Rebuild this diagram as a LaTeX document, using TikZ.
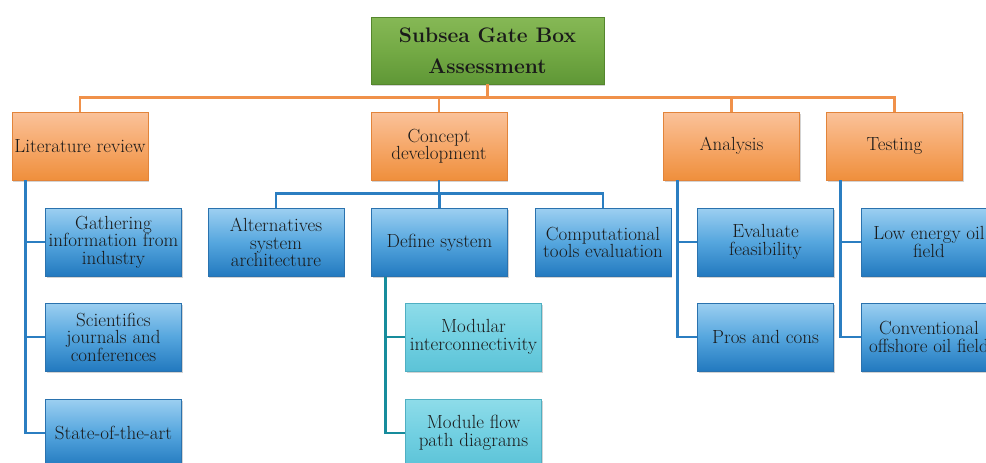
\documentclass[tikz,border=0pt]{standalone}
\usetikzlibrary{shadows}
\definecolor{txt}{HTML}{1A1A1A}
\definecolor{otop}{HTML}{FAC29A}
\definecolor{omid}{HTML}{F6A86A}
\definecolor{obot}{HTML}{EF8F3C}
\definecolor{oborder}{HTML}{E2843A}
\definecolor{btop}{HTML}{9CCFF1}
\definecolor{bmid}{HTML}{55A6DE}
\definecolor{bbot}{HTML}{2279BF}
\definecolor{bborder}{HTML}{2A72AE}
\definecolor{ttop}{HTML}{8EDCE9}
\definecolor{tmid}{HTML}{72D0E2}
\definecolor{tbot}{HTML}{5CC3D7}
\definecolor{tborder}{HTML}{4FAFC2}
\definecolor{gtop}{HTML}{86B856}
\definecolor{gmid}{HTML}{74AA45}
\definecolor{gbot}{HTML}{5F9736}
\definecolor{gborder}{HTML}{55862D}
\definecolor{oline}{HTML}{F0914A}
\definecolor{bline}{HTML}{2B7EC1}
\definecolor{tline}{HTML}{178C9C}
\begin{document}
\begin{tikzpicture}[x=1pt,y=-1pt,
  box/.style={rectangle, minimum width=136pt, minimum height=68pt, inner sep=1pt,
    align=center, font=\fontsize{19}{17.5}\selectfont, text=txt, line width=0.6pt,
    drop shadow={shadow xshift=1.2pt,shadow yshift=-1.6pt,opacity=0.35}},
  obox/.style={box, draw=oborder, top color=otop, bottom color=obot, middle color=omid},
  bbox/.style={box, draw=bborder, top color=btop, bottom color=bbot, middle color=bmid},
  tbox/.style={box, draw=tborder, top color=ttop, bottom color=tbot, middle color=tmid},
  gbox/.style={box, minimum width=233pt, minimum height=67pt, draw=gborder,
    top color=gtop, bottom color=gbot, middle color=gmid,
    font=\fontsize{21}{31}\selectfont\bfseries},
  oconn/.style={draw=oline, line width=2.6pt},
  bconn/.style={draw=bline, line width=2.8pt},
  tconn/.style={draw=tline, line width=2.8pt}]
\useasboundingbox (0,0) rectangle (986,463);
% nodes
\node[gbox] (title) at (487.5,50.5) {Subsea Gate Box\\Assessment};
\node[obox] (lit) at (80,146) {Literature review};
\node[obox] (con) at (439,146) {Concept\\development};
\node[obox] (ana) at (731.5,146) {Analysis};
\node[obox] (tst) at (894.5,146) {Testing};
\node[bbox] (g1) at (113.5,242) {Gathering\\information from\\industry};
\node[bbox] (g2) at (113.5,337) {Scientifics\\journals and\\conferences};
\node[bbox] (g3) at (113.5,433) {State-of-the-art};
\node[bbox] (alt) at (276,242.5) {Alternatives\\system\\architecture};
\node[bbox] (def) at (439.5,242.5) {Define system};
\node[bbox] (cmp) at (603,242.5) {Computational\\tools evaluation};
\node[tbox] (mod) at (473.5,337) {Modular\\interconnectivity};
\node[tbox] (flw) at (473.5,433) {Module flow\\path diagrams};
\node[bbox] (ev) at (765.5,242) {Evaluate\\feasibility};
\node[bbox] (pc) at (765.5,337) {Pros and cons};
\node[bbox] (le) at (929,242) {Low energy oil\\field};
\node[bbox] (co) at (929,337) {Conventional\\offshore oil field};
% orange connectors
\coordinate (ob) at ([yshift=-13pt]title.south);
\draw[oconn] (title.south) -- (ob);
\draw[oconn] (lit.north) |- (ob) -| (tst.north);
\draw[oconn] (con.north) -- (con.north |- ob);
\draw[oconn] (ana.north) -- (ana.north |- ob);
% literature
\coordinate (ls) at ([xshift=14pt]lit.south west);
\draw[bconn] (ls) |- (g3.west);
\draw[bconn] (ls |- g1.west) -- (g1.west);
\draw[bconn] (ls |- g2.west) -- (g2.west);
% concept
\coordinate (cb) at ([yshift=-13pt]con.south);
\draw[bconn] (con.south) -- (cb);
\draw[bconn] (alt.north) |- (cb) -| (cmp.north);
\draw[bconn] (cb) -- (cb -| def.north) -- (def.north);
% define system
\coordinate (ds) at ([xshift=14.5pt]def.south west);
\draw[tconn] (ds) |- (flw.west);
\draw[tconn] (ds |- mod.west) -- (mod.west);
% analysis
\coordinate (as) at ([xshift=14.5pt]ana.south west);
\draw[bconn] (as) |- (pc.west);
\draw[bconn] (as |- ev.west) -- (ev.west);
% testing
\coordinate (ts) at ([xshift=14.5pt]tst.south west);
\draw[bconn] (ts) |- (co.west);
\draw[bconn] (ts |- le.west) -- (le.west);
\end{tikzpicture}
\end{document}
